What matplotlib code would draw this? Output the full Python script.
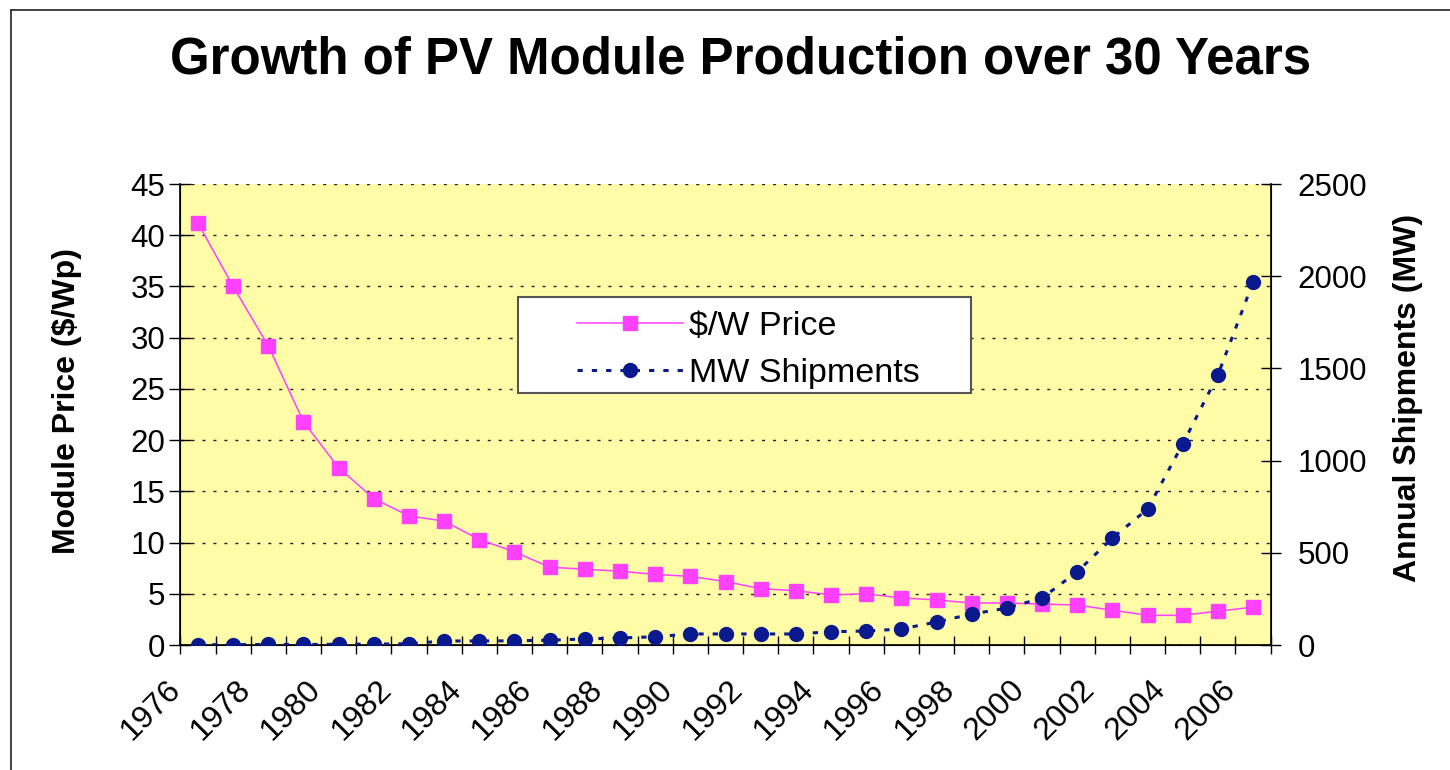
import numpy as np
import matplotlib
matplotlib.use("Agg")
import matplotlib.pyplot as plt
from matplotlib.lines import Line2D
from matplotlib.patches import Rectangle
from matplotlib.transforms import ScaledTranslation

plt.rcParams['font.family'] = ['Liberation Sans', 'DejaVu Sans']
plt.rcParams['lines.scale_dashes'] = False

# data
years = list(range(1976, 2007))
price = [41.2, 35.0, 29.2, 21.8, 17.3, 14.3, 12.6, 12.1, 10.3, 9.1,
         7.6, 7.4, 7.2, 6.9, 6.7, 6.2, 5.5, 5.3, 4.9, 5.0,
         4.6, 4.4, 4.1, 4.1, 4.0, 3.9, 3.4, 2.9, 2.9, 3.3, 3.7]
shipments = [2, 2, 3, 3, 4, 5, 7, 22, 22, 23,
             26, 33, 38, 45, 60, 60, 60, 60, 72, 76,
             87, 125, 168, 200, 255, 397, 580, 737, 1090, 1464, 1968]
tick_years = [str(y) for y in years[::2]]

yellow = '#FFFCA8'
pink = '#FF40FF'
navy = '#0A1A8E'

fig = plt.figure(figsize=(14.5, 7.7), dpi=100)
ax = fig.add_axes([0.1244, 0.1623, 0.7519, 0.5987])
ax.set_facecolor(yellow)
ax2 = ax.twinx()

x = np.arange(len(years))
ax.plot(x, price, color=pink, lw=1.1, marker='s', ms=10, mec=pink, mfc=pink,
        label='$/W Price', zorder=3)
ax2.plot(x, shipments, color=navy, lw=2.2, ls=(0, (3.8, 6.5)), marker='o', ms=10,
         mec=navy, mfc=navy, label='MW Shipments', zorder=3)

ax.set_xlim(-0.5, len(years) - 0.5)
ax.set_ylim(0, 45)
ax2.set_ylim(0, 2500)
ax.set_yticks(np.arange(0, 46, 5))
ax2.set_yticks(np.arange(0, 2501, 500))

# category boundaries as tick marks, labels on every other category
ax.set_xticks(np.arange(-0.5, len(years), 1))
ax.set_xticklabels([])
ax.set_xticks(x[::2], tick_years, minor=True)
ax.tick_params(axis='x', which='major', direction='inout', length=13, width=1, color='black')
ax.tick_params(axis='x', which='minor', length=0, pad=29, labelsize=23)
for lab in ax.get_xticklabels(minor=True):
    lab.set_rotation(45)
    lab.set_ha('right')
    lab.set_va('center')
    lab.set_rotation_mode('anchor')
    lab.set_transform(lab.get_transform() + ScaledTranslation(-0.22, 0, fig.dpi_scale_trans))

ax.tick_params(axis='y', direction='inout', length=16, width=1, labelsize=22.5, pad=3)
ax2.tick_params(axis='y', direction='inout', length=15, width=1, labelsize=22.5, pad=12)

ax.yaxis.grid(True, color='#222222', lw=1, ls=(0, (2.2, 5.7)))
ax.set_axisbelow(True)
for s in ['top']:
    ax.spines[s].set_visible(False)
    ax2.spines[s].set_visible(False)
for s in ['left', 'right', 'bottom']:
    ax2.spines[s].set_color('black')
    ax2.spines[s].set_linewidth(1.2)

ax.set_ylabel('Module Price ($/Wp)', fontsize=23, fontweight='bold')
ax.yaxis.set_label_coords(-0.0905, 0.529)
ax2.set_ylabel('Annual Shipments (MW)', fontsize=23, fontweight='bold')
ax2.yaxis.set_label_coords(1.1123, 0.537)

fig.text(741 / 1450, 1 - 60 / 770, 'Growth of PV Module Production over 30 Years',
         ha='center', va='center', fontsize=36.7, fontweight='bold')

# legend box
ax2.add_patch(Rectangle((0.3097, 0.5466), 0.4155, 0.2082, transform=ax2.transAxes,
                        facecolor='white', edgecolor='#555555', lw=1.5, zorder=4))
h1, l1 = ax.get_legend_handles_labels()
h2, l2 = ax2.get_legend_handles_labels()
leg = ax2.legend(h1 + h2, l1 + l2, loc='upper left', bbox_to_anchor=(0.3638, 0.7245),
                 frameon=False, fontsize=24.5, handlelength=3.1, handletextpad=0.2,
                 borderpad=0, borderaxespad=0, labelspacing=0.47)
leg.set_zorder(5)

# outer frame of the chart (cut off at right and bottom)
fig.add_artist(Line2D([11 / 1450, 11 / 1450], [0, 1 - 10 / 770], color='#333333', lw=1.3))
fig.add_artist(Line2D([11 / 1450, 1], [1 - 10 / 770, 1 - 10 / 770], color='#333333', lw=1.3))

fig.savefig('out.png', dpi=100, facecolor='white')
